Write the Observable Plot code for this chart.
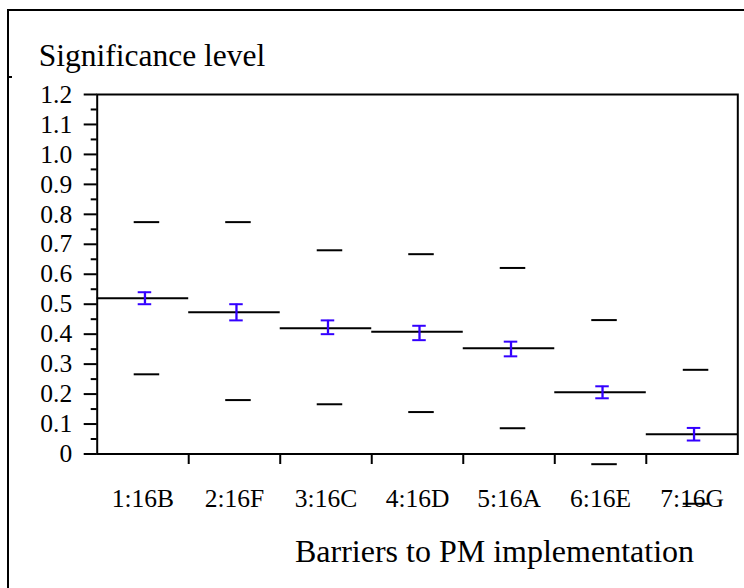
<!DOCTYPE html>
<html><head><meta charset="utf-8">
<script src="https://cdn.jsdelivr.net/npm/d3@7"></script>
<script src="https://cdn.jsdelivr.net/npm/@observablehq/plot@0.6"></script>
<style>
html,body{margin:0;padding:0;background:#fff;overflow:hidden;}
#wrap{position:relative;width:744px;height:588px;overflow:hidden;}
#border{position:absolute;left:7px;top:9px;width:800px;height:700px;border-left:2px solid #000;border-top:2px solid #000;pointer-events:none;}
#stub{position:absolute;left:9px;top:76px;width:3px;height:2px;background:#000;}
#chart svg text{font-family:'Liberation Serif','Times New Roman',serif;}
</style></head><body>
<div id="wrap"><div id="chart"></div><div id="border"></div><div id="stub"></div></div>
<script>
const categories = ["1:16B","2:16F","3:16C","4:16D","5:16A","6:16E","7:16G"];
const meanValues = [0.520, 0.473, 0.420, 0.408, 0.353, 0.206, 0.066];
const errLow = [0.500, 0.446, 0.400, 0.380, 0.326, 0.186, 0.045];
const errHigh = [0.540, 0.500, 0.446, 0.428, 0.375, 0.226, 0.087];
const upperLimits = [0.774, 0.774, 0.680, 0.667, 0.621, 0.447, 0.281];
const lowerLimits = [0.266, 0.180, 0.166, 0.140, 0.086, -0.034, -0.166];
const yTicks = [0, 0.1, 0.2, 0.3, 0.4, 0.5, 0.6, 0.7, 0.8, 0.9, 1.0, 1.1, 1.2];
const yTickLabels = ["0","0.1","0.2","0.3","0.4","0.5","0.6","0.7","0.8","0.9","1.0","1.1","1.2"];
const yMinorTicks = [0.05, 0.15, 0.25, 0.35, 0.45, 0.55, 0.65, 0.75, 0.85, 0.95, 1.05, 1.15];
const xBoundaries = [1.5, 2.5, 3.5, 4.5, 5.5, 6.5];
const yTitle = "Significance level";
const xTitle = "Barriers to PM implementation";

const rows = categories.map((c, k) => ({
  i: k + 1, cat: c, mean: meanValues[k], lo: errLow[k], hi: errHigh[k],
  up: upperLimits[k], low: lowerLimits[k]
}));

const font = "'Liberation Serif','Times New Roman',serif";
const blue = "#3300ff";
const left = d => d.i - 0.5, right = d => d.i + 0.5;

const chart = Plot.plot({
  width: 744, height: 588,
  marginLeft: 96.7, marginRight: 6.7, marginTop: 94, marginBottom: 134.5,
  style: {fontFamily: font, background: "transparent", color: "#000"},
  x: {domain: [0.5, 7.5]},
  y: {domain: [0, 1.2]},
  marks: [
    Plot.axisY(yMinorTicks, {tickSize: 6, tickFormat: () => "", strokeWidth: 2, label: null}),
    Plot.axisY(yTicks, {tickSize: 13, tickPadding: 12, tickFormat: d => yTickLabels[yTicks.indexOf(d)], fontSize: 25.5, fontFamily: font, fontVariant: "normal", strokeWidth: 2, label: null}),
    Plot.axisX(xBoundaries, {tickSize: 10.5, tickFormat: () => "", strokeWidth: 2, label: null}),
    Plot.axisX(rows.map(d => d.i), {tickSize: 0, tickPadding: 35, tickFormat: i => categories[i - 1], fontSize: 25.5, fontFamily: font, fontVariant: "normal", label: null}),
    Plot.frame({stroke: "#000", strokeWidth: 2}),
    Plot.ruleY(rows, {x1: left, x2: right, y: "mean", stroke: "#000", strokeWidth: 2}),
    Plot.ruleY(rows, {x1: left, x2: right, y: "up", insetLeft: 33, insetRight: 33, dx: 4, stroke: "#000", strokeWidth: 2}),
    Plot.ruleY(rows, {x1: left, x2: right, y: "low", insetLeft: 33, insetRight: 33, dx: 4, stroke: "#000", strokeWidth: 2}),
    Plot.ruleX(rows, {x: "i", y1: "lo", y2: "hi", dx: 2, stroke: blue, strokeWidth: 2.3}),
    Plot.ruleY(rows, {x1: left, x2: right, y: "lo", insetLeft: 39, insetRight: 39, dx: 2, stroke: blue, strokeWidth: 2}),
    Plot.ruleY(rows, {x1: left, x2: right, y: "hi", insetLeft: 39, insetRight: 39, dx: 2, stroke: blue, strokeWidth: 2}),
    Plot.text([yTitle], {text: d => d, frameAnchor: "top-left", dx: -58.4, dy: -29, textAnchor: "start", lineAnchor: "bottom", fontSize: 31.5, fontFamily: font}),
    Plot.text([xTitle], {text: d => d, frameAnchor: "bottom", dx: 77, dy: 108, textAnchor: "middle", lineAnchor: "bottom", fontSize: 32, fontFamily: font})
  ]
});
document.getElementById("chart").appendChild(chart);
</script>
</body></html>
